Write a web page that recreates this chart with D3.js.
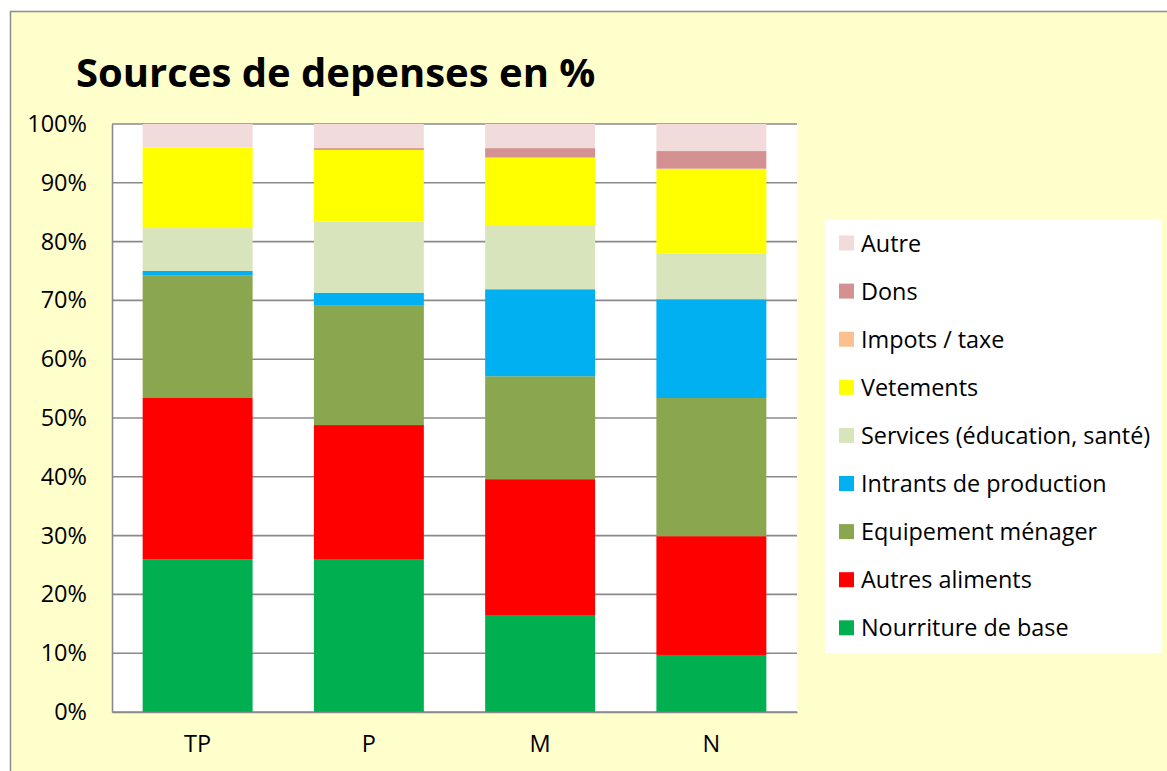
<!DOCTYPE html>
<html><head><meta charset="utf-8">
<script src="https://cdn.jsdelivr.net/npm/d3@7"></script>
<style>
html,body{margin:0;padding:0;background:#fff;}
svg{display:block;}
text{font-family:"Open Sans",sans-serif;fill:#000;}
</style></head>
<body>
<svg id="chart" width="1167" height="771"></svg>
<script>
const categories = ["TP","P","M","N"];
const seriesNames = ["Nourriture de base","Autres aliments","Equipement ménager","Intrants de production","Services (éducation, santé)","Vetements","Impots / taxe","Dons","Autre"];
const nourriture = [26.0, 25.9, 16.5, 9.7];
const autresAliments = [27.4, 22.9, 23.1, 20.2];
const equipement = [20.8, 20.4, 17.5, 23.5];
const intrants = [0.8, 2.1, 14.8, 16.8];
const services = [7.3, 12.1, 10.9, 7.8];
const vetements = [13.7, 12.2, 11.5, 14.4];
const impots = [0.0, 0.0, 0.0, 0.0];
const dons = [0.0, 0.3, 1.6, 3.0];
const autre = [4.0, 4.1, 4.1, 4.6];
const yTicks = [0,10,20,30,40,50,60,70,80,90,100];
const colors = ["#00B050","#FF0000","#8AA64E","#00B0F0","#D8E4BC","#FFFF00","#FAC090","#D39291","#F2DCDB"];

const seriesValues = [nourriture, autresAliments, equipement, intrants, services, vetements, impots, dons, autre];
const table = categories.map((c,i)=>{
  const o = {cat:c};
  seriesNames.forEach((s,j)=>{ o[s] = seriesValues[j][i]; });
  return o;
});

const svg = d3.select("#chart");
svg.append("rect").attr("x",10.5).attr("y",11.5).attr("width",1170).attr("height",780)
  .attr("fill","#FFFFCC").attr("stroke","#8c8c8c").attr("stroke-width",1.5);

const pL=112, pR=797, pT=124, pB=712;
const x = d3.scaleBand().domain(categories).range([pL,pR]).paddingInner(0.358).paddingOuter(0.179);
const y = d3.scaleLinear().domain([0,100]).range([pB,pT]);

svg.append("rect").attr("x",pL).attr("y",pT).attr("width",pR-pL).attr("height",pB-pT).attr("fill","#fff");

svg.append("g").selectAll("line").data(yTicks).join("line")
  .attr("x1",pL).attr("x2",pR).attr("y1",d=>y(d)).attr("y2",d=>y(d))
  .attr("stroke","#8a8a8a").attr("stroke-width",1.6);

const stacked = d3.stack().keys(seriesNames)(table);
svg.append("g").selectAll("g").data(stacked).join("g")
  .attr("fill",(d,i)=>colors[i])
  .selectAll("rect").data(d=>d).join("rect")
  .attr("x",d=>x(d.data.cat))
  .attr("width",x.bandwidth())
  .attr("y",d=>y(d[1]))
  .attr("height",d=>Math.max(0,y(d[0])-y(d[1])));

const yAxis = d3.axisLeft(y).tickValues(yTicks).tickFormat(d=>d+"%").tickSize(0).tickPadding(25);
const ya = svg.append("g").attr("transform",`translate(${pL},0)`).call(yAxis);
ya.select(".domain").attr("stroke","#8a8a8a").attr("stroke-width",1.6);
ya.selectAll("text").attr("font-size",23.5).style("font-family","'Open Sans', sans-serif").attr("fill","#000");

const xAxis = d3.axisBottom(x).tickSize(0).tickPadding(23);
const xa = svg.append("g").attr("transform",`translate(0,${pB})`).call(xAxis);
xa.select(".domain").attr("stroke","#8a8a8a").attr("stroke-width",1.6);
xa.selectAll("text").attr("font-size",23.5).style("font-family","'Open Sans', sans-serif").attr("fill","#000");

svg.append("text").attr("x",76).attr("y",87).attr("font-size",40).attr("font-weight","bold")
  .text("Sources de depenses en %");

const lg = svg.append("g");
lg.append("rect").attr("x",825).attr("y",219).attr("width",337).attr("height",434).attr("fill","#fff");
const legendOrder = seriesNames.map((s,i)=>({s, c:colors[i]})).reverse();
const rows = lg.selectAll("g.row").data(legendOrder).join("g").attr("class","row")
  .attr("transform",(d,i)=>`translate(839,${243 + i*48.1})`);
rows.append("rect").attr("x",0).attr("y",-7.5).attr("width",15).attr("height",15).attr("fill",d=>d.c);
rows.append("text").attr("x",22).attr("y",8.5).attr("font-size",23.4).text(d=>d.s);
</script>
</body></html>
